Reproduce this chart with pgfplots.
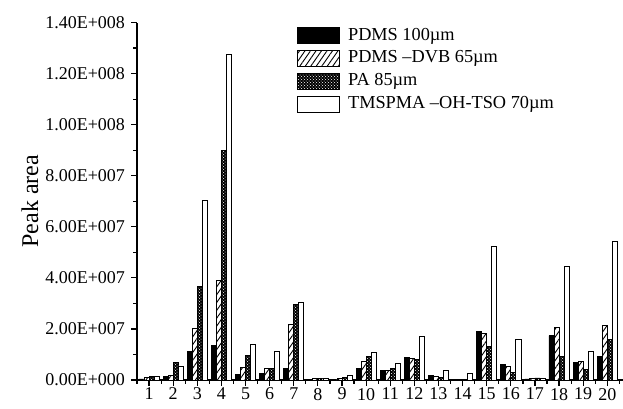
\documentclass[border=0pt]{standalone}
\usepackage{pgfplots}
\pgfplotsset{compat=1.18}
\usepackage{pgfplotstable}
\usetikzlibrary{patterns,patterns.meta}
\usepackage{fontspec}
\setmainfont{Liberation Serif}
\pgfplotsset{mylegend/.style={legend image code/.code={\draw[##1] (0pt,-8pt) rectangle (42pt,8pt); \path (50pt,0pt);}}}
\pgfplotstableread{
x a b c d
1 0.4e6 1.0e6 1.2e6 1.5e6
2 1.2e6 1.8e6 6.7e6 5.5e6
3 1.1e7 2.0e7 3.67e7 7.05e7
4 1.36e7 3.9e7 9.0e7 1.275e8
5 2.2e6 4.8e6 9.6e6 1.4e7
6 2.5e6 4.5e6 4.7e6 1.1e7
7 4.4e6 2.19e7 2.96e7 3.03e7
8 0.3e6 0.5e6 0.6e6 0.6e6
9 0.3e6 0.6e6 1.0e6 1.6e6
10 4.4e6 7.1e6 9.1e6 1.06e7
11 3.9e6 3.9e6 4.5e6 6.6e6
12 8.7e6 8.3e6 8.1e6 1.71e7
13 1.8e6 1.4e6 0.9e6 3.9e6
14 0.3e6 0.3e6 0.3e6 2.7e6
15 1.91e7 1.83e7 1.32e7 5.22e7
16 6.0e6 5.3e6 3.1e6 1.58e7
17 0.4e6 0.6e6 0.8e6 0.5e6
18 1.74e7 2.06e7 9.2e6 4.43e7
19 6.9e6 7.4e6 4.0e6 1.13e7
20 9.1e6 2.15e7 1.58e7 5.42e7
}\datatable
\begin{document}
\begin{tikzpicture}[font=\fontsize{18}{21}\selectfont]
\path[use as bounding box] (-137pt,-28pt) rectangle (486pt,380pt);
\begin{axis}[
  scale only axis,
  width=486pt, height=357.5pt,
  xmin=0.5, xmax=20.65,
  ymin=0, ymax=1.4e8,
  axis x line*=bottom, axis y line*=left,
  axis line style={line width=1.2pt},
  every tick/.style={line width=1.2pt, black},
  tick align=outside,
  major tick length=5.5pt, minor tick length=3.5pt,
  xtick={1,2,3,4,5,6,7,8,9,10,11,12,13,14,15,16,17,18,19,20},
  xticklabels={1,2,3,4,5,6,7,8,9,10,11,12,13,14,15,16,17,18,19,20},
  minor xtick={0.5,1.5,2.5,3.5,4.5,5.5,6.5,7.5,8.5,9.5,10.5,11.5,12.5,13.5,14.5,15.5,16.5,17.5,18.5,19.5,20.5},
  ytick={0,2e7,4e7,6e7,8e7,1e8,1.2e8,1.4e8},
  yticklabels={0.00E+000,2.00E+007,4.00E+007,6.00E+007,8.00E+007,1.00E+008,1.20E+008,1.40E+008},
  every tick label/.append style={font=\fontsize{18}{21}\selectfont},
  yticklabel style={xshift=-3pt},
  xticklabel style={yshift=1pt},
  label style={font=\fontsize{24}{26}\selectfont},
  minor y tick num=1,
  scaled y ticks=false,
  ylabel={Peak area},
  ylabel style={yshift=0pt},
  ybar, bar width=0.21,
  legend style={draw=none, fill=none, inner sep=0pt, at={(0.3292,0.987)}, anchor=north west, row sep=6pt, nodes={inner sep=0pt, text height=12.5pt, text depth=4pt}, font=\fontsize{18.3}{21}\selectfont},
  legend cell align=left,
]
\addplot[draw=black, line width=0.9pt, fill=black, bar shift=-0.315, mylegend] table[x=x,y=a]{\datatable};
\addplot[draw=black, line width=0.9pt, fill=white, postaction={pattern={Lines[angle=55, distance=4.5pt, line width=0.9pt]}}, bar shift=-0.105, mylegend] table[x=x,y=b]{\datatable};
\addplot[draw=black, line width=0.9pt, fill=black, postaction={pattern=crosshatch dots, pattern color=white}, bar shift=0.105, mylegend] table[x=x,y=c]{\datatable};
\addplot[draw=black, line width=0.9pt, fill=white, bar shift=0.315, mylegend] table[x=x,y=d]{\datatable};
\legend{PDMS 100µm, PDMS –DVB 65µm, PA 85µm, TMSPMA –OH-TSO 70µm}
\end{axis}
\end{tikzpicture}
\end{document}
